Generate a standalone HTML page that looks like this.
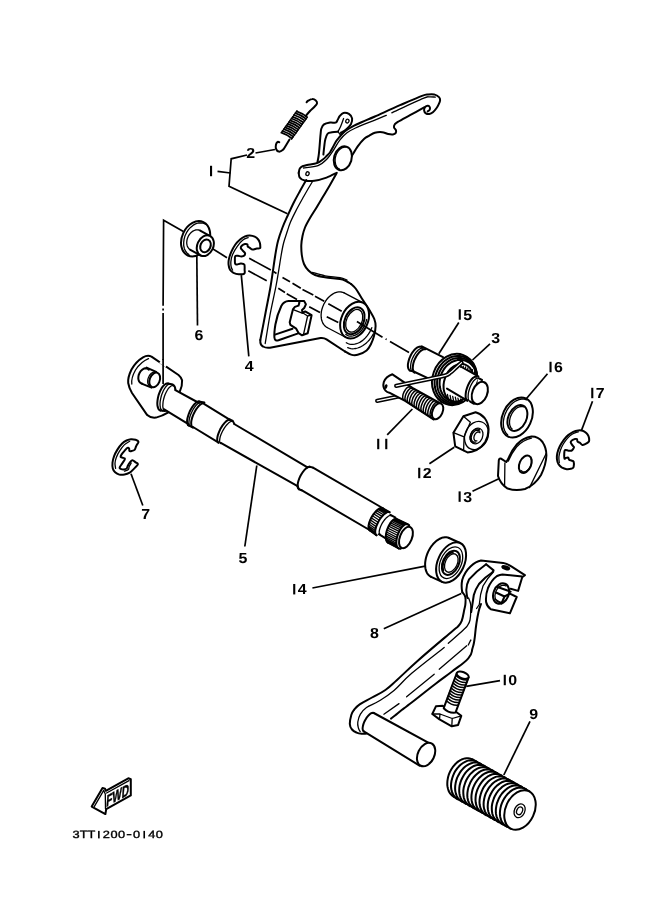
<!DOCTYPE html>
<html><head><meta charset="utf-8"><title>Shift shaft</title>
<style>
html,body{margin:0;padding:0;background:#fff;}
body{width:661px;height:913px;overflow:hidden;font-family:"Liberation Sans",sans-serif;}
svg{display:block;will-change:transform;text-rendering:geometricPrecision}
.m{fill:none;stroke:#000;stroke-width:2.0;stroke-linecap:round;stroke-linejoin:round}
.w{fill:#fff;stroke:#000;stroke-width:2.0;stroke-linecap:round;stroke-linejoin:round}
.n{fill:none;stroke:#000;stroke-width:1.3;stroke-linecap:round;stroke-linejoin:round}
.wn{fill:#fff;stroke:#000;stroke-width:1.3;stroke-linecap:round;stroke-linejoin:round}
.t{fill:none;stroke:#000;stroke-width:1.7;stroke-linecap:butt}
.k{fill:#000;stroke:none}
.wf{fill:#fff;stroke:none}
.lb{font-family:"Liberation Sans",sans-serif;font-weight:bold;font-size:14.5px;fill:#000}
</style></head><body>
<svg width="661" height="913" viewBox="0 0 661 913">
<rect class="wf" x="0" y="0" width="661" height="913"/>
<path class="t" d="M247,155 L231.2,158.8 L229,186.3 L287.5,213.8" />
<line class="t" x1="217.50" y1="171.30" x2="230.50" y2="173.00" />
<line class="t" x1="255.50" y1="153.00" x2="275.00" y2="149.50" />
<path class="t" d="M183.4,231.5 L163.6,220.3 L163.1,305.8 M163.1,308.5 L163.1,310.5 M163.1,313 L163.1,360" />
<line class="t" x1="196.80" y1="255.00" x2="197.50" y2="325.50" />
<line class="t" x1="241.30" y1="275.20" x2="248.80" y2="356.30" />
<line class="t" x1="207.00" y1="245.30" x2="227.00" y2="257.70" />
<path d="M281.3,132.7 Q287.3,134.6 291.9,138.5" fill="none" stroke="#000" stroke-width="1.75" stroke-linecap="round"/>
<path d="M282.5,131.0 Q288.6,132.9 293.2,136.7" fill="none" stroke="#000" stroke-width="1.75" stroke-linecap="round"/>
<path d="M283.8,129.2 Q289.9,131.1 294.5,134.9" fill="none" stroke="#000" stroke-width="1.75" stroke-linecap="round"/>
<path d="M285.1,127.4 Q291.1,129.3 295.8,133.1" fill="none" stroke="#000" stroke-width="1.75" stroke-linecap="round"/>
<path d="M286.4,125.6 Q292.4,127.5 297.0,131.4" fill="none" stroke="#000" stroke-width="1.75" stroke-linecap="round"/>
<path d="M287.6,123.9 Q293.7,125.8 298.3,129.6" fill="none" stroke="#000" stroke-width="1.75" stroke-linecap="round"/>
<path d="M288.9,122.1 Q295.0,124.0 299.6,127.8" fill="none" stroke="#000" stroke-width="1.75" stroke-linecap="round"/>
<path d="M290.2,120.3 Q296.2,122.2 300.9,126.0" fill="none" stroke="#000" stroke-width="1.75" stroke-linecap="round"/>
<path d="M291.5,118.5 Q297.5,120.4 302.1,124.3" fill="none" stroke="#000" stroke-width="1.75" stroke-linecap="round"/>
<path d="M292.7,116.8 Q298.8,118.7 303.4,122.5" fill="none" stroke="#000" stroke-width="1.75" stroke-linecap="round"/>
<path d="M294.0,115.0 Q300.1,116.9 304.7,120.7" fill="none" stroke="#000" stroke-width="1.75" stroke-linecap="round"/>
<path d="M295.3,113.2 Q301.3,115.1 306.0,118.9" fill="none" stroke="#000" stroke-width="1.75" stroke-linecap="round"/>
<path d="M296.6,111.4 Q302.6,113.3 307.2,117.2" fill="none" stroke="#000" stroke-width="1.75" stroke-linecap="round"/>
<line class="n" x1="281.73" y1="132.10" x2="297.03" y2="110.80" />
<line class="n" x1="291.47" y1="139.10" x2="306.77" y2="117.80" />
<path class="m" d="M305.6,116.2 C306.3,115.3 308.6,112.5 310.0,111.0 C311.4,109.5 312.8,108.5 314.0,107.2 C315.2,105.9 316.7,104.5 317.0,103.4 C317.3,102.3 316.6,101.1 315.8,100.4 C315.0,99.7 313.5,99.0 312.2,99.1 C310.9,99.1 309.1,100.2 308.2,100.7 C307.3,101.2 306.9,102.0 306.6,102.3" stroke-width="2.5"/>
<path class="m" d="M289.5,139.5 C288.9,140.5 287.0,143.6 285.9,145.4 C284.8,147.2 283.9,149.1 282.7,150.1 C281.5,151.1 279.9,151.8 278.8,151.6 C277.7,151.4 276.6,150.2 276.1,149.0 C275.6,147.8 275.7,145.8 276.0,144.6 C276.3,143.4 277.1,142.3 277.7,141.9 C278.2,141.5 279.0,142.1 279.3,142.2" stroke-width="2.5"/>
<path class="m" d="M306.3,180.0 C305.2,181.8 302.1,187.2 300.0,191.0 C297.9,194.8 295.9,198.3 293.8,202.5 C291.7,206.7 289.4,211.8 287.5,216.0 C285.6,220.2 284.1,223.3 282.5,227.5 C280.9,231.7 279.2,236.4 278.0,241.0 C276.8,245.6 276.5,247.7 275.3,255.0 C274.1,262.3 272.4,275.3 270.8,285.0 C269.2,294.7 267.2,303.8 265.5,313.0 C263.8,322.2 261.2,335.5 260.3,340.0" />
<path class="m" d="M260.3,340 Q260,345 263,346.5 Q266,348.3 270,347.7 L320.5,338 Q324,337.6 326.5,339.3 L345,351.5" />
<path class="m" d="M345.0,351.5 C346.0,352.0 348.9,354.1 351.0,354.6 C353.1,355.2 355.0,355.5 357.6,354.8 C360.2,354.1 364.4,352.2 366.6,350.4 C368.8,348.6 369.8,346.4 371.0,344.0 C372.2,341.6 373.2,339.0 374.0,336.0 C374.8,333.0 375.6,328.8 375.6,326.0 C375.7,323.2 375.2,321.5 374.3,319.0 C373.4,316.5 372.1,314.6 370.0,311.0 C367.9,307.4 363.7,301.4 361.4,297.7 C359.1,294.0 357.7,291.3 356.0,289.0 C354.3,286.7 351.8,284.8 351.0,284.0" />
<path class="m" d="M351.0,284.0 C350.2,283.5 347.8,281.8 346.0,281.0 C344.2,280.2 343.5,279.6 340.0,279.0 C336.5,278.4 329.2,278.0 325.0,277.3 C320.8,276.6 317.8,276.1 315.0,275.0 C312.2,273.9 310.3,272.3 308.5,270.5 C306.7,268.7 305.1,266.6 304.0,264.0 C302.9,261.4 302.2,258.2 301.8,255.0 C301.4,251.8 301.2,248.2 301.3,245.0 C301.4,241.8 301.9,238.9 302.5,236.0 C303.1,233.1 303.8,230.5 305.0,227.5 C306.2,224.5 308.3,220.9 310.0,218.0 C311.7,215.1 312.9,213.4 315.0,210.0 C317.1,206.6 320.0,201.7 322.5,197.5 C325.0,193.3 327.7,188.9 330.0,185.0 C332.3,181.1 335.2,175.7 336.3,173.8" />
<path class="n" d="M312.0,272.3 C314.2,272.9 320.3,274.9 325.0,275.8 C329.7,276.7 336.3,276.9 340.0,277.6 C343.7,278.3 345.8,279.6 347.0,280.0" />
<path class="n" d="M312.2,182.0 C310.8,184.3 306.6,191.3 304.0,196.0 C301.4,200.7 298.6,205.7 296.3,210.0 C294.1,214.3 292.0,218.4 290.5,222.0 C289.0,225.6 288.4,227.8 287.3,231.3 C286.2,234.8 284.6,239.1 283.6,243.0 C282.6,246.9 282.4,248.0 281.2,255.0 C280.0,262.0 278.1,275.0 276.2,285.0 C274.3,295.0 271.8,305.2 270.0,315.0 C268.2,324.8 266.0,338.8 265.2,343.5" />
<path class="m" d="M298.7,301.1 L288.5,301.1 Q284,301.3 281.3,306 Q277,315 275.4,324.5 Q274,333 274.4,337.5 Q274.8,341.5 278.5,340.3 L298.2,333.4" />
<path class="m" d="M275,334.6 L292.5,328.7" />
<path class="w" d="M298.7,301.1 L304.2,301.1 L305.9,304.3 L304.2,308.0 L302.0,310.0 L302.5,312.8 L305.2,311.4 L311.6,315.2 L307.7,333.2 L302.0,335.3 L298.7,333.2 L296.2,328.7 L290.4,324.9 L289.7,322.3 L292.9,309.4 L294.9,306.9 L298.5,305.6 L299.4,302.6Z" stroke-width="1.6"/>
<path class="n" d="M302.6,312.8 L307.6,316 L303.5,334.5 M307.6,316 L311.2,315.2 M293.2,309.6 L302.2,313.2" />
<path class="t" d="M249.2,258.3 L270.8,270 M273.5,271.6 L276.5,273.4 M282.5,277.5 L290,281.7 M292.5,283.3 L300.8,288.3 M302.5,289.5 L313.3,295 M315,296.3 L324.2,301.3 M328.3,303.7 L341.7,311.3" />
<path class="t" d="M248.3,270.8 L266.7,280.8 M278.3,288.3 L285,292.5 M286.7,293.7 L297,299.4 M309.2,306.7 L320,312.5 M326.7,316.7 L338.3,322.5" />
<path class="n" d="M327.1,327.5 L325.9,326.8 L324.8,325.8 L323.9,324.7 L323.0,323.5 L322.4,322.1 L321.8,320.6 L321.4,318.9 L321.2,317.2 L321.1,315.4 L321.2,313.5 L321.4,311.6 L321.8,309.7 L322.4,307.8 L323.1,305.9 L323.9,304.0 L324.9,302.3 L325.9,300.6 L327.1,299.0 L328.4,297.5 L329.8,296.2 L331.2,295.1 L332.6,294.1 L334.1,293.2 L335.6,292.6 L337.2,292.1 L338.7,291.9 L340.1,291.8 L341.5,292.0 L342.9,292.4 L344.1,292.9" /><line class="n" x1="344.15" y1="292.90" x2="363.15" y2="302.90" /><line class="n" x1="327.05" y1="327.50" x2="346.05" y2="337.50" /><ellipse class="w" cx="354.60" cy="320.20" rx="13.20" ry="19.30" transform="rotate(25 354.60 320.20)" />
<ellipse class="m" cx="354.20" cy="320.80" rx="9.40" ry="14.20" transform="rotate(25 354.20 320.80)" stroke-width="2.2"/>
<ellipse class="n" cx="354.20" cy="320.80" rx="7.60" ry="12.00" transform="rotate(25 354.20 320.80)" />
<path class="n" d="M366.7,319.5 L366.1,321.6 L365.4,323.6 L364.5,325.6 L363.5,327.5 L362.2,329.3 L360.9,331.0 L359.4,332.4 L357.9,333.6 L356.3,334.7 L354.7,335.4 L353.0,335.9 L351.4,336.1 L349.9,336.1 L348.4,335.8 L347.1,335.2 L345.8,334.4" />
<path class="n" d="M371.8,327.7 L370.8,330.0 L369.7,332.2 L368.4,334.2 L366.9,336.1 L365.4,337.9 L363.7,339.5 L362.0,340.9 L360.2,342.1 L358.4,343.0 L356.5,343.7 L354.7,344.2 L352.9,344.4 L351.1,344.4 L349.4,344.1 L347.8,343.5 L346.3,342.7" />
<path class="n" d="M373.4,333.9 L372.2,335.9 L370.9,337.8 L369.5,339.7 L368.0,341.4 L366.4,342.9 L364.7,344.3 L363.0,345.5 L361.3,346.5 L359.5,347.4 L357.7,348.0 L356.0,348.5 L354.2,348.7 L352.5,348.8 L350.8,348.6 L349.2,348.2 L347.7,347.6" />
<path class="t" d="M356.9,321.5 L382.5,337.2 M385.6,339 L386.6,339.6 M390,341.6 L409,352.6" />
<path class="m" d="M317.4,162.5 C317.6,161.4 318.2,158.8 318.6,156.0 C319.0,153.2 319.3,149.7 319.6,146.0 C319.9,142.3 320.3,136.9 320.6,134.0 C320.9,131.1 320.8,130.1 321.4,128.5 C322.0,126.9 322.6,125.4 324.0,124.4 C325.4,123.4 328.2,122.9 330.1,122.6 C332.0,122.3 334.4,123.0 335.6,122.6 C336.9,122.2 336.9,121.1 337.6,120.0 C338.3,118.9 338.8,117.1 339.8,115.9 C340.8,114.7 341.9,113.2 343.4,112.9 C344.9,112.6 347.4,113.0 348.9,113.9 C350.3,114.8 351.8,116.6 352.1,118.3 C352.4,120.0 351.9,122.3 350.9,124.2 C349.8,126.1 347.4,128.4 345.8,129.8 C344.2,131.2 341.8,132.1 341.0,132.6" />
<path class="m" d="M323.4,154.6 C323.5,153.2 324.0,148.6 324.3,146.0 C324.6,143.4 324.8,141.0 325.4,138.9 C326.0,136.8 326.6,134.7 327.7,133.6 C328.8,132.5 330.3,132.6 332.0,132.3 C333.7,132.0 337.0,131.7 338.0,131.6" />
<path class="n" d="M338.0,131.6 C338.4,130.8 339.7,128.7 340.6,126.5 C341.5,124.3 343.1,119.8 343.6,118.5" />
<path class="n" d="M338,131.6 L340.2,134.6 L344.5,131.2" />
<ellipse class="n" cx="347.40" cy="121.10" rx="1.60" ry="1.90" transform="rotate(20 347.40 121.10)" />
<path class="m" d="M298.7,173.0 C298.9,172.2 299.1,169.6 299.8,168.5 C300.5,167.4 301.4,166.8 302.6,166.2 C303.8,165.6 304.7,165.4 307.1,164.9 C309.5,164.4 314.2,164.0 316.8,163.1 C319.4,162.2 321.1,160.7 322.8,159.5 C324.5,158.3 325.6,157.0 326.8,155.8 C328.0,154.6 329.1,153.7 330.1,152.2 C331.1,150.7 332.0,148.8 333.0,147.0 C334.0,145.2 335.0,143.0 336.1,141.3 C337.2,139.6 338.3,138.4 339.5,137.0 C340.7,135.6 342.1,134.1 343.4,132.8 C344.7,131.6 346.1,130.5 347.5,129.5 C348.9,128.5 349.5,128.1 351.9,126.8 C354.3,125.5 358.2,123.7 362.0,122.0 C365.8,120.3 368.6,119.3 374.9,116.5 C381.2,113.7 392.1,108.6 400.0,105.2 C407.9,101.8 417.3,97.7 422.0,95.9 C426.7,94.1 426.1,94.7 428.1,94.4 C430.1,94.2 432.3,94.0 434.1,94.4 C435.9,94.9 438.0,96.1 439.0,97.1 C440.0,98.1 440.2,99.1 440.1,100.3 C440.0,101.5 439.2,103.2 438.6,104.5 C438.0,105.8 437.6,106.7 436.6,108.0 C435.7,109.3 434.1,111.2 432.9,112.2 C431.7,113.2 430.5,113.8 429.3,114.0 C428.1,114.2 426.8,114.0 425.9,113.4 C425.0,112.8 424.2,111.5 424.1,110.4 C424.0,109.3 424.4,107.8 425.1,107.0 C425.8,106.2 427.3,105.7 428.1,105.8 C428.9,105.9 429.7,106.7 429.9,107.4 C430.1,108.1 429.9,109.3 429.5,110.0 C429.1,110.7 428.0,111.2 427.7,111.4" />
<path class="m" d="M424.1,107.4 C421.8,108.7 414.4,112.8 410.0,115.2 C405.6,117.6 400.3,120.4 397.8,121.9 C395.3,123.4 395.4,123.4 394.8,124.3 C394.2,125.2 393.8,126.4 394.0,127.4 C394.2,128.4 395.7,129.4 396.0,130.4 C396.3,131.4 396.1,132.5 395.6,133.2 C395.1,133.9 394.2,134.3 393.0,134.4 C391.8,134.5 390.0,134.4 388.2,134.0 C386.4,133.6 384.3,132.4 382.1,132.2 C379.9,132.0 377.0,132.2 374.8,132.8 C372.6,133.4 370.8,134.8 369.0,135.8 C367.2,136.8 365.9,137.2 364.0,138.9 C362.1,140.6 359.9,143.3 357.9,146.1 C355.9,148.9 352.9,154.2 351.9,155.8" />
<path class="m" d="M298.7,173.0 C298.9,173.8 298.8,176.3 299.8,177.6 C300.8,178.9 302.3,180.1 304.7,180.6 C307.1,181.1 310.8,181.3 314.4,180.8 C318.0,180.3 322.8,178.9 326.5,177.6 C330.2,176.3 335.1,173.6 336.8,172.8" />
<path class="n" d="M303.5,168.0 C305.9,167.6 314.2,167.0 318.0,165.6 C321.8,164.2 323.9,162.1 326.5,159.5 C329.1,156.9 331.5,153.0 333.7,149.8 C335.9,146.6 337.6,142.9 339.8,140.1 C342.0,137.3 344.4,134.8 347.0,132.8 C349.6,130.8 350.9,130.1 355.5,128.0 C360.1,125.9 369.8,122.2 374.9,120.1 C380.0,118.0 384.4,116.1 386.3,115.3" />
<path class="n" d="M391.8,112.8 C397.0,110.4 416.9,100.9 423.2,98.3 C429.4,95.7 427.3,97.1 429.3,96.9 C431.3,96.7 434.4,97.1 435.4,97.1" />
<ellipse class="n" cx="307.50" cy="173.70" rx="1.60" ry="1.90" transform="rotate(20 307.50 173.70)" />
<ellipse class="w" cx="342.80" cy="158.30" rx="8.80" ry="12.20" transform="rotate(17 342.80 158.30)" />
<path class="n" d="M339.5,169.1 L338.0,168.2 L336.8,166.8 L335.9,165.0 L335.3,163.0 L335.1,160.7 L335.2,158.3 L335.8,155.9 L336.6,153.6 L337.8,151.6 L339.3,149.8 L341.0,148.4 L342.7,147.5 L344.5,147.0 L346.3,147.0" />
<ellipse class="w" cx="195.60" cy="238.80" rx="13.60" ry="18.40" transform="rotate(25 195.60 238.80)" />
<path class="n" d="M188.9,254.6 L186.9,253.0 L185.4,250.9 L184.3,248.4 L183.7,245.5 L183.7,242.3 L184.1,239.1 L185.0,235.8 L186.5,232.7 L188.3,229.9 L190.5,227.4 L192.9,225.4 L195.5,223.9 L198.2,223.0 L200.8,222.8 L203.3,223.1 L205.5,224.2" />
<path class="n" d="M190.4,249.8 L189.7,249.4 L189.0,248.8 L188.5,248.1 L188.0,247.4 L187.5,246.6 L187.2,245.7 L187.0,244.8 L186.8,243.8 L186.7,242.7 L186.8,241.7 L186.9,240.6 L187.1,239.5 L187.4,238.4 L187.8,237.4 L188.3,236.3 L188.8,235.4 L189.5,234.4 L190.1,233.6 L190.9,232.8 L191.7,232.1 L192.5,231.4 L193.4,230.9 L194.3,230.5 L195.1,230.2 L196.0,229.9 L196.9,229.9 L197.8,229.9 L198.6,230.0 L199.5,230.2 L200.2,230.6" /><line class="m" x1="200.21" y1="230.59" x2="210.21" y2="236.09" /><line class="m" x1="190.39" y1="249.81" x2="200.39" y2="255.31" /><ellipse class="w" cx="205.30" cy="245.70" rx="8.00" ry="10.80" transform="rotate(25 205.30 245.70)" />
<ellipse class="m" cx="205.50" cy="245.90" rx="5.00" ry="6.60" transform="rotate(25 205.50 245.90)" />
<path class="w" d="M260.3,246.8 C260.3,245.9 260.2,244.2 259.9,243.0 C259.5,241.8 259.1,240.6 258.2,239.5 C257.3,238.4 256.1,237.4 254.7,236.7 C253.3,236.0 251.4,235.6 249.8,235.5 C248.2,235.4 246.6,235.7 245.0,236.4 C243.4,237.1 241.7,238.1 240.1,239.5 C238.5,240.9 236.6,242.7 235.2,244.7 C233.8,246.7 232.4,249.4 231.4,251.7 C230.4,254.0 229.5,256.4 229.0,258.6 C228.5,260.8 228.4,263.0 228.6,264.9 C228.8,266.8 229.2,268.5 230.0,269.8 C230.8,271.1 232.1,272.1 233.5,272.9 C234.9,273.6 236.9,274.2 238.7,274.3 C240.5,274.4 243.3,274.4 244.3,273.6 C245.3,272.9 244.6,271.3 244.6,269.8 C244.6,268.3 244.9,265.6 244.3,264.5 C243.7,263.4 242.0,263.5 240.8,263.5 C239.6,263.5 237.9,264.4 237.0,264.5 C236.1,264.6 235.5,264.4 235.2,263.8 C234.8,263.2 234.9,262.0 234.9,260.7 C234.9,259.4 234.7,257.0 235.2,256.2 C235.7,255.4 236.9,255.8 238.0,255.8 C239.1,255.9 240.4,256.6 241.5,256.5 C242.6,256.4 243.7,256.1 244.3,255.5 C244.9,254.9 245.3,254.0 245.0,253.1 C244.7,252.2 243.2,251.1 242.5,250.3 C241.8,249.5 240.9,249.0 240.8,248.2 C240.7,247.4 241.1,246.4 241.8,245.7 C242.5,245.0 244.1,244.2 245.0,244.0 C245.9,243.8 247.0,244.0 247.4,244.4 C247.8,244.8 247.3,245.8 247.7,246.4 C248.1,247.0 249.0,247.3 249.8,247.8 C250.6,248.3 251.4,249.5 252.6,249.6 C253.8,249.7 255.6,248.7 256.8,248.5 C258.0,248.3 259.3,248.5 259.9,248.2 C260.5,247.9 260.3,247.7 260.3,246.8Z" />
<path class="n" d="M248.1,237.6 C247.2,238.0 244.7,238.6 242.9,240.0 C241.1,241.4 239.0,243.9 237.3,246.3 C235.6,248.7 233.7,251.9 232.6,254.4 C231.5,256.9 231.1,259.3 230.9,261.4 C230.7,263.5 230.9,265.5 231.2,267.0 C231.5,268.5 232.4,269.7 232.6,270.2" stroke-width="1.0"/>
<path class="w" d="M179.9,391.3 Q182.4,386 182.1,380.4 Q181,377 178.5,375 L151.5,356.6 Q147.5,354.8 143,357.4 Q136,361.6 131.5,369.5 Q127.6,377.5 128.2,383 Q129,388 132,393 L147.2,415.1 Q150.5,418.2 156,417.6 Q162.5,416 168.3,412.4" />
<path class="n" d="M148.5,358.6 Q141,361.6 135.5,370 Q131,378 131.8,384" />
<path class="m" d="M142.3,383.7 L141.0,383.3 L140.0,382.5 L139.1,381.4 L138.6,380.1 L138.3,378.5 L138.4,376.7 L138.7,375.0 L139.4,373.3 L140.3,371.7 L141.4,370.4 L142.7,369.3 L144.0,368.6 L145.4,368.3 L146.7,368.4 L147.9,368.9 L148.9,369.7" />
<path class="m" d="M146.6,367.6 L156.2,371.8 M142.2,383.9 L151.6,387.6" />
<ellipse class="w" cx="154.70" cy="379.90" rx="5.00" ry="7.60" transform="rotate(22 154.70 379.90)" />
<path class="n" d="M149.5,385.9 L148.6,385.0 L148.0,383.8 L147.7,382.4 L147.7,380.8 L147.9,379.1 L148.5,377.4 L149.2,375.9 L150.2,374.5 L151.4,373.3 L152.6,372.5 L153.9,372.1 L155.1,372.0" />
<path class="t" d="M160.2,361.6 L166.4,365.9" stroke="#fff" style="stroke:#fff;stroke-width:3.4"/>
<line class="t" x1="163.10" y1="359.00" x2="163.10" y2="384.00" />
<path class="wf" d="M164,408 L168.4,383.6 L175.4,388 L176,391 L166,412 Z" />
<path class="m" d="M168.0,383.6 L166.8,383.5 L165.6,384.0 L164.2,385.0 L162.9,386.4 L161.6,388.2 L160.4,390.4 L159.4,392.8 L158.5,395.4 L157.9,398.0 L157.5,400.6 L157.3,403.1 L157.4,405.3 L157.8,407.2 L158.4,408.8 L159.2,409.8 L160.2,410.4" />
<path class="n" d="M170.4,384.2 L169.3,384.2 L168.1,384.6 L166.9,385.6 L165.6,387.0 L164.4,388.8 L163.2,391.0 L162.2,393.4 L161.3,396.0 L160.7,398.6 L160.2,401.2 L160.0,403.6 L160.1,405.8 L160.4,407.7 L160.9,409.2 L161.7,410.2 L162.6,410.8" />
<path class="n" d="M173.2,385.6 L172.2,385.5 L171.1,386.0 L169.9,386.9 L168.6,388.2 L167.4,390.0 L166.3,392.0 L165.2,394.3 L164.3,396.8 L163.6,399.3 L163.1,401.7 L162.9,404.1 L162.8,406.2 L163.0,408.0 L163.5,409.4 L164.2,410.5 L165.0,411.0" />
<path class="m" d="M168.0,383.6 L172.8,384.6 Q175.4,386.2 175.4,390.1 M160.2,410.4 L165.0,411.0" />
<path class="m" d="M175.4,390.1 L199.0,403.0 M163.8,409.2 L188.4,424.2" />
<path class="m" d="M199.6,401.6 L198.6,401.4 L197.5,401.7 L196.3,402.5 L194.9,403.7 L193.5,405.2 L192.2,407.1 L190.9,409.2 L189.7,411.5 L188.8,413.8 L188.0,416.2 L187.4,418.4 L187.1,420.5 L187.1,422.3 L187.4,423.7 L187.9,424.8 L188.6,425.4" />
<path class="n" d="M201.6,402.4 L200.6,402.2 L199.5,402.5 L198.2,403.3 L196.9,404.4 L195.5,406.0 L194.1,407.9 L192.8,410.0 L191.7,412.3 L190.6,414.6 L189.8,417.0 L189.3,419.2 L189.0,421.3 L188.9,423.1 L189.2,424.5 L189.7,425.6 L190.4,426.2" />
<path class="m" d="M204.0,403.4 L203.0,403.2 L201.9,403.5 L200.6,404.3 L199.3,405.4 L197.9,407.0 L196.5,408.8 L195.2,410.9 L194.0,413.2 L192.9,415.6 L192.1,417.9 L191.5,420.2 L191.2,422.2 L191.2,424.0 L191.4,425.5 L191.9,426.6 L192.6,427.2" />
<path class="m" d="M198.6,401.4 L204.4,402.6 M188.0,425.2 L193,427.6" />
<path class="m" d="M204.4,404.2 L229.6,419.6 M193,427 L218.2,442.4" />
<path class="m" d="M229.6,419.6 L232.6,420.6 L234.2,423.6" />
<path class="m" d="M230.6,419.8 L229.7,419.6 L228.5,419.8 L227.2,420.5 L225.8,421.6 L224.4,423.1 L223.0,424.8 L221.6,426.9 L220.3,429.1 L219.3,431.4 L218.4,433.6 L217.7,435.8 L217.3,437.9 L217.2,439.6 L217.4,441.1 L217.9,442.1 L218.6,442.8" />
<path class="n" d="M233.2,421.4 L232.3,421.2 L231.2,421.4 L229.9,422.0 L228.5,423.1 L227.1,424.5 L225.7,426.2 L224.3,428.1 L223.0,430.3 L221.9,432.5 L220.9,434.7 L220.2,436.8 L219.8,438.8 L219.6,440.5 L219.7,441.9 L220.1,442.9 L220.8,443.6" />
<path class="m" d="M234.2,424.0 L307.5,467.3 M220.8,442.9 L297.6,486.2" />
<path class="m" d="M307.5,467.3 L309.5,466.8 L313,467.6" />
<path class="m" d="M310.5,466.9 L309.6,466.7 L308.4,466.9 L307.2,467.6 L305.8,468.6 L304.4,470.0 L303.0,471.8 L301.7,473.7 L300.5,475.8 L299.4,478.1 L298.6,480.3 L298.0,482.4 L297.7,484.4 L297.6,486.1 L297.8,487.5 L298.3,488.6 L299.0,489.2" />
<path class="m" d="M297.6,486.4 L299.0,489.2 L301.5,490.2" />
<path class="m" d="M313,467.6 L382.5,508.0 M301.5,490.2 L369.5,530.0" />
<path class="m" d="M382.5,508.2 L389.5,512.2 M369.8,530.4 L376.5,535.2" />
<path class="m" d="M382.5,508.2 L381.5,507.9 L380.4,508.1 L379.0,508.7 L377.6,509.7 L376.1,511.1 L374.6,512.8 L373.1,514.7 L371.8,516.8 L370.7,519.0 L369.7,521.3 L369.0,523.4 L368.6,525.4 L368.5,527.1 L368.6,528.6 L369.1,529.7 L369.8,530.4" />
<path class="m" d="M389.5,512.2 L388.5,511.9 L387.3,512.1 L386.0,512.8 L384.5,513.8 L383.0,515.3 L381.5,517.0 L380.0,519.0 L378.6,521.2 L377.5,523.5 L376.5,525.8 L375.8,528.0 L375.3,530.1 L375.2,531.9 L375.3,533.4 L375.8,534.5 L376.5,535.2" />
<path class="n" d="M382.5,508.2 L389.5,512.2 M381.6,507.9 L388.6,511.9 M380.5,508.1 L387.5,512.1 M379.3,508.6 L386.2,512.6 M377.9,509.4 L384.9,513.5 M376.5,510.6 L383.4,514.8 M375.1,512.1 L382.0,516.4 M373.7,513.9 L380.6,518.2 M372.4,515.8 L379.3,520.2 M371.2,517.9 L378.1,522.3 M370.2,519.9 L377.0,524.5 M369.4,522.0 L376.2,526.6 M368.9,524.0 L375.6,528.7 M368.5,525.8 L375.3,530.5 M368.5,527.4 L375.2,532.2 M368.7,528.8 L375.4,533.5 M369.1,529.8 L375.8,534.6 M369.8,530.4 L376.5,535.2" stroke-width="1.0"/>
<path class="m" d="M390.5,514.8 L395.5,517.6 M378.8,534.2 L386.5,538.8" />
<path class="n" d="M391.5,515.6 L390.7,515.4 L389.8,515.5 L388.6,516.0 L387.4,516.9 L386.1,518.1 L384.8,519.5 L383.6,521.1 L382.4,522.9 L381.4,524.8 L380.5,526.7 L379.9,528.5 L379.4,530.2 L379.2,531.7 L379.3,532.9 L379.6,533.8 L380.2,534.4" />
<path class="m" d="M396.5,519.0 L395.5,518.9 L394.3,519.2 L393.1,520.0 L391.8,521.2 L390.5,522.8 L389.4,524.7 L388.3,526.8 L387.4,529.0 L386.6,531.4 L386.1,533.7 L385.8,535.9 L385.8,537.9 L386.0,539.6 L386.5,541.0 L387.1,542.0 L388.0,542.6" />
<path class="m" d="M396.5,519.0 L407.5,524.2 M388.0,542.6 L398.8,548.4" />
<path class="n" d="M396.5,519.0 L407.5,524.2 M395.6,518.9 L406.6,524.1 M394.7,519.1 L405.7,524.3 M393.7,519.6 L404.6,524.8 M392.6,520.4 L403.6,525.7 M391.5,521.5 L402.5,526.8 M390.5,522.9 L401.4,528.2 M389.5,524.4 L400.4,529.8 M388.6,526.2 L399.5,531.6 M387.7,528.1 L398.6,533.5 M387.0,530.0 L397.9,535.5 M386.5,532.0 L397.3,537.6 M386.1,533.9 L396.9,539.5 M385.8,535.8 L396.7,541.4 M385.8,537.5 L396.6,543.2 M385.9,539.0 L396.7,544.8 M386.2,540.3 L397.0,546.1 M386.6,541.4 L397.4,547.2 M387.3,542.1 L398.1,547.9 M388.0,542.6 L398.8,548.4" stroke-width="1.0"/>
<path class="w" d="M407.5,524.2 L406.0,524.1 L404.3,524.9 L402.5,526.4 L400.8,528.6 L399.2,531.3 L397.9,534.4 L396.9,537.6 L396.4,540.7 L396.3,543.5 L396.7,545.8 L397.6,547.5 L398.8,548.4 L400.3,548.5 L402.0,547.7 L403.8,546.2 L405.5,544.0 L407.1,541.3 L408.4,538.2 L409.4,535.0 L409.9,531.9 L410.0,529.1 L409.6,526.8 L408.7,525.1 L407.5,524.2" />
<path class="n" d="M407.5,524.2 L409.5,525.2 M398.8,548.4 L400.8,549.0" />
<ellipse class="w" cx="405.95" cy="537.50" rx="6.00" ry="11.20" transform="rotate(22 405.95 537.50)" />
<path class="w" d="M138.5,441.8 C138.4,440.8 136.8,440.2 135.6,439.8 C134.3,439.4 132.5,439.1 131.0,439.2 C129.5,439.3 128.0,439.8 126.5,440.5 C125.0,441.2 123.4,442.2 121.9,443.7 C120.4,445.2 118.7,447.5 117.4,449.6 C116.1,451.7 114.9,453.9 114.1,456.1 C113.3,458.3 112.7,460.6 112.5,462.6 C112.3,464.7 112.4,466.8 112.8,468.4 C113.2,470.0 114.0,471.3 115.1,472.3 C116.2,473.3 117.7,474.2 119.3,474.6 C120.9,475.0 122.8,474.9 124.5,474.6 C126.2,474.3 128.2,473.6 129.7,472.7 C131.2,471.8 132.2,470.5 133.6,469.1 C135.0,467.7 137.6,465.3 137.9,464.2 C138.2,463.1 136.5,462.9 135.6,462.3 C134.7,461.7 133.3,460.2 132.3,460.3 C131.3,460.4 130.4,461.7 129.7,462.6 C128.9,463.5 128.3,464.8 127.8,465.8 C127.3,466.8 127.4,467.8 126.8,468.4 C126.2,469.0 124.9,469.3 123.9,469.4 C122.9,469.5 121.3,469.1 120.6,468.8 C119.9,468.5 119.4,468.3 119.6,467.5 C119.8,466.7 121.1,465.1 121.9,463.9 C122.7,462.6 124.0,460.9 124.5,460.0 C125.0,459.1 125.1,458.8 124.8,458.4 C124.5,458.0 123.3,457.9 122.6,457.7 C121.9,457.5 120.8,457.6 120.6,457.0 C120.4,456.4 120.9,455.4 121.6,454.4 C122.2,453.4 123.5,452.0 124.5,450.9 C125.5,449.8 126.6,448.3 127.4,447.9 C128.2,447.5 128.8,448.1 129.1,448.6 C129.4,449.1 129.1,450.5 129.4,450.9 C129.7,451.3 130.1,451.4 131.0,451.2 C131.9,451.0 133.7,450.8 134.6,449.9 C135.5,449.0 135.5,447.4 136.2,446.0 C136.8,444.6 138.6,442.8 138.5,441.8Z" />
<path class="n" d="M129.7,441.3 C128.8,441.9 126.1,443.1 124.5,444.6 C122.9,446.1 121.4,448.3 120.0,450.4 C118.6,452.5 117.1,455.3 116.3,457.4 C115.5,459.5 115.1,461.4 115.0,463.2 C114.9,465.0 115.5,467.5 115.6,468.4" stroke-width="1.0"/>
<path class="n" d="M131.2,463.0 C130.9,463.6 129.7,465.4 129.2,466.5 C128.7,467.6 129.2,468.7 128.4,469.5 C127.6,470.3 125.2,470.9 124.5,471.2" stroke-width="1.0"/>
<line class="t" x1="131.00" y1="473.80" x2="142.80" y2="505.50" />
<line class="t" x1="256.80" y1="465.50" x2="244.80" y2="546.50" />
<line class="t" x1="458.80" y1="322.50" x2="438.80" y2="353.80" />
<line class="t" x1="490.00" y1="343.80" x2="472.50" y2="360.00" />
<line class="t" x1="412.40" y1="409.00" x2="387.20" y2="434.90" />
<path class="m" d="M421.8,346.4 L443,357.2 M412.6,371.0 L431,379.6" />
<path class="m" d="M411.4,371.0 L410.3,370.8 L409.4,370.3 L408.7,369.3 L408.2,368.1 L407.9,366.5 L407.9,364.7 L408.2,362.7 L408.7,360.6 L409.4,358.4 L410.3,356.3 L411.3,354.2 L412.5,352.3 L413.9,350.5 L415.2,349.1 L416.6,347.9 L418.0,347.1 L419.3,346.7 L420.4,346.6 L421.4,346.9 L422.3,347.6" />
<path class="n" d="M412.4,371.6 L411.5,370.8 L411.0,369.5 L410.6,368.0 L410.6,366.2 L410.8,364.2 L411.2,362.0 L411.9,359.8 L412.9,357.6 L414.0,355.4 L415.2,353.5 L416.6,351.7 L418.0,350.3 L419.4,349.2 L420.8,348.4 L422.1,348.1 L423.3,348.1" />
<path class="m" d="M414.6,372.7 L413.7,371.9 L413.2,370.6 L412.8,369.1 L412.8,367.3 L413.0,365.3 L413.4,363.1 L414.1,360.9 L415.1,358.7 L416.2,356.5 L417.4,354.6 L418.8,352.8 L420.2,351.4 L421.6,350.3 L423.0,349.5 L424.3,349.2 L425.5,349.2" stroke-width="1.6"/>
<ellipse class="w" cx="454.50" cy="379.50" rx="22.00" ry="26.00" transform="rotate(20 454.50 379.50)" stroke-width="2.0"/>
<path class="m" d="M460.1,402.9 L457.5,403.7 L454.9,404.0 L452.3,404.1 L449.8,403.7 L447.4,403.0 L445.1,402.0 L442.9,400.6 L440.9,399.0 L439.2,397.0 L437.7,394.8 L436.5,392.4 L435.5,389.7 L434.9,387.0 L434.6,384.1 L434.6,381.2 L434.9,378.3 L435.5,375.3 L436.4,372.5 L437.6,369.8 L439.1,367.2 L440.8,364.8 L442.8,362.6 L444.9,360.7 L447.2,359.1 L449.6,357.8 L452.2,356.8 L454.7,356.2 L457.3,355.9 L459.9,356.0 L462.4,356.4 L464.8,357.2 L467.1,358.4 L469.2,359.8 L471.1,361.6 L472.8,363.6 L474.2,365.9 L475.3,368.4 L476.2,371.0 L476.7,373.8 L477.0,376.7" stroke-width="1.5"/>
<path class="m" d="M461.1,402.0 L458.7,402.7 L456.2,403.1 L453.8,403.1 L451.4,402.8 L449.1,402.1 L447.0,401.1 L444.9,399.9 L443.1,398.3 L441.5,396.5 L440.0,394.4 L438.9,392.1 L438.0,389.6 L437.4,387.1 L437.1,384.4 L437.1,381.6 L437.4,378.9 L438.0,376.1 L438.8,373.5 L439.9,370.9 L441.3,368.5 L443.0,366.2 L444.8,364.2 L446.8,362.4 L449.0,360.9 L451.2,359.7 L453.6,358.7 L456.0,358.2 L458.5,357.9 L460.9,358.0 L463.2,358.4 L465.5,359.1 L467.6,360.2 L469.6,361.6 L471.4,363.2 L473.0,365.1 L474.3,367.3 L475.4,369.6 L476.2,372.1 L476.7,374.7 L476.9,377.4" stroke-width="1.5"/>
<path class="m" d="M462.1,401.1 L459.8,401.8 L457.5,402.1 L455.3,402.1 L453.0,401.8 L450.9,401.2 L448.9,400.3 L447.0,399.1 L445.2,397.6 L443.7,395.9 L442.4,394.0 L441.3,391.8 L440.5,389.5 L439.9,387.1 L439.6,384.6 L439.6,382.0 L439.9,379.5 L440.4,376.9 L441.2,374.4 L442.3,372.0 L443.6,369.7 L445.1,367.6 L446.8,365.7 L448.7,364.1 L450.7,362.7 L452.9,361.5 L455.1,360.7 L457.3,360.1 L459.6,359.9 L461.9,359.9 L464.1,360.3 L466.2,361.0 L468.2,362.0 L470.0,363.3 L471.7,364.8 L473.2,366.6 L474.4,368.6 L475.5,370.8 L476.2,373.1 L476.7,375.6 L476.9,378.1" stroke-width="1.5"/>
<ellipse class="w" cx="458.60" cy="382.80" rx="14.40" ry="19.40" transform="rotate(20 458.60 382.80)" stroke-width="2.0"/>
<path class="n" d="M461.0,365.2 L460.4,370.5 M463.3,366.1 L462.7,371.6 M465.6,367.0 L465.0,372.7 M467.9,367.9 L467.3,373.8 M470.2,368.8 L469.6,374.9 M472.5,369.7 L471.9,376.0 M474.8,370.6 L474.2,377.1" stroke-width="1.0"/>
<path class="n" d="M447.5,394.5 L448.3,399.3 M450.1,395.4 L450.9,399.8 M452.7,396.3 L453.5,400.3 M455.3,397.2 L456.1,400.8 M457.9,398.1 L458.7,401.3 M460.5,399.0 L461.3,401.8" stroke-width="1.0"/>
<path class="wf" d="M447.5,377.0 L462,366.8 L478.6,376.6 L469.5,400.6 L447,388.6 Z" />
<path class="m" d="M461.5,367.0 L478.4,376.4 M447,388.6 L467.2,400.6" />
<path class="m" d="M476.5,376.8 L475.5,376.7 L474.4,377.0 L473.1,377.8 L471.9,379.0 L470.6,380.6 L469.4,382.5 L468.3,384.7 L467.4,386.9 L466.6,389.3 L466.0,391.6 L465.7,393.9 L465.6,395.9 L465.7,397.6 L466.1,399.0 L466.8,400.0 L467.6,400.6" />
<path class="n" d="M478.6,378.2 L477.6,378.1 L476.5,378.4 L475.3,379.2 L474.0,380.4 L472.8,382.0 L471.7,383.9 L470.6,386.0 L469.7,388.2 L469.0,390.5 L468.4,392.8 L468.2,395.0 L468.1,397.0 L468.3,398.7 L468.7,400.1 L469.4,401.0 L470.2,401.6" />
<path class="m" d="M478.6,378.2 L482,380 M470.2,401.6 L474,403.8" />
<ellipse class="w" cx="479.80" cy="393.00" rx="7.40" ry="11.60" transform="rotate(22 479.80 393.00)" />
<path d="M377.2,400.8 C381.1,400.0 394.0,397.4 400.8,396.0 C407.6,394.6 415.1,393.2 418.0,392.6" fill="none" stroke="#000" stroke-width="4.3" stroke-linecap="round" stroke-linejoin="round"/>
<path d="M377.2,400.8 C381.1,400.0 394.0,397.4 400.8,396.0 C407.6,394.6 415.1,393.2 418.0,392.6" fill="none" stroke="#fff" stroke-width="1.2" stroke-linecap="round" stroke-linejoin="round"/>
<path class="w" d="M392.4,374.3 Q386,376.5 383.8,382 Q382.4,387.5 385.5,390.6 Q387,392.3 389.3,392.7 L405.6,401.2 L433.5,419.4 L440.5,403.4 L412.4,387.9 Z" />
<path class="n" style="stroke-width:1.5" d="M410.0,386.9 L409.4,386.8 L408.7,386.9 L407.9,387.2 L407.0,387.8 L406.2,388.6 L405.4,389.6 L404.7,390.8 L404.0,392.0 L403.5,393.3 L403.0,394.6 L402.8,395.9 L402.7,397.0 L402.7,398.0 L402.9,398.9 L403.3,399.5 L403.8,399.9" />
<path class="n" style="stroke-width:1.5" d="M412.3,388.2 L411.7,388.0 L410.9,388.2 L410.2,388.5 L409.3,389.2 L408.5,390.0 L407.7,391.0 L407.0,392.2 L406.3,393.4 L405.7,394.7 L405.3,396.1 L405.1,397.3 L404.9,398.5 L405.0,399.5 L405.2,400.4 L405.6,401.0 L406.1,401.4" />
<path class="n" style="stroke-width:1.5" d="M414.6,389.5 L414.0,389.3 L413.2,389.5 L412.4,389.9 L411.6,390.5 L410.8,391.3 L410.0,392.4 L409.2,393.5 L408.6,394.8 L408.0,396.2 L407.6,397.5 L407.3,398.8 L407.2,400.0 L407.3,401.0 L407.5,401.8 L407.9,402.5 L408.4,402.9" />
<path class="n" style="stroke-width:1.5" d="M416.9,390.8 L416.2,390.6 L415.5,390.8 L414.7,391.2 L413.9,391.8 L413.1,392.7 L412.3,393.7 L411.5,394.9 L410.9,396.2 L410.3,397.6 L409.9,398.9 L409.6,400.2 L409.5,401.4 L409.6,402.5 L409.8,403.3 L410.1,404.0 L410.7,404.4" />
<path class="n" style="stroke-width:1.5" d="M419.2,392.0 L418.5,391.9 L417.8,392.1 L417.0,392.5 L416.2,393.1 L415.4,394.0 L414.6,395.1 L413.8,396.3 L413.1,397.6 L412.6,399.0 L412.2,400.4 L411.9,401.7 L411.8,402.9 L411.8,403.9 L412.1,404.8 L412.4,405.4 L412.9,405.8" />
<path class="n" style="stroke-width:1.5" d="M421.5,393.3 L420.8,393.2 L420.1,393.4 L419.3,393.8 L418.5,394.5 L417.6,395.4 L416.8,396.4 L416.1,397.7 L415.4,399.0 L414.9,400.4 L414.4,401.8 L414.2,403.1 L414.1,404.4 L414.1,405.4 L414.3,406.3 L414.7,406.9 L415.2,407.3" />
<path class="n" style="stroke-width:1.5" d="M423.8,394.6 L423.1,394.5 L422.4,394.7 L421.6,395.1 L420.8,395.8 L419.9,396.7 L419.1,397.8 L418.4,399.1 L417.7,400.4 L417.1,401.8 L416.7,403.2 L416.5,404.6 L416.4,405.8 L416.4,406.9 L416.6,407.8 L417.0,408.4 L417.5,408.8" />
<path class="n" style="stroke-width:1.5" d="M426.0,395.9 L425.4,395.8 L424.7,396.0 L423.9,396.4 L423.1,397.1 L422.2,398.0 L421.4,399.2 L420.7,400.4 L420.0,401.8 L419.4,403.2 L419.0,404.7 L418.7,406.0 L418.6,407.3 L418.7,408.4 L418.9,409.3 L419.3,409.9 L419.8,410.3" />
<path class="n" style="stroke-width:1.5" d="M428.3,397.2 L427.7,397.1 L427.0,397.2 L426.2,397.7 L425.3,398.4 L424.5,399.4 L423.7,400.5 L422.9,401.8 L422.3,403.2 L421.7,404.7 L421.3,406.1 L421.0,407.5 L420.9,408.7 L421.0,409.8 L421.2,410.7 L421.6,411.4 L422.1,411.8" />
<path class="n" style="stroke-width:1.5" d="M430.6,398.5 L430.0,398.4 L429.3,398.5 L428.5,399.0 L427.6,399.7 L426.8,400.7 L426.0,401.9 L425.2,403.2 L424.5,404.6 L424.0,406.1 L423.6,407.5 L423.3,408.9 L423.2,410.2 L423.3,411.3 L423.5,412.2 L423.8,412.9 L424.4,413.3" />
<path class="n" style="stroke-width:1.5" d="M432.9,399.7 L432.3,399.6 L431.6,399.8 L430.8,400.3 L429.9,401.1 L429.1,402.1 L428.3,403.2 L427.5,404.6 L426.8,406.0 L426.3,407.5 L425.9,409.0 L425.6,410.4 L425.5,411.7 L425.5,412.8 L425.8,413.7 L426.1,414.4 L426.6,414.7" />
<path class="n" style="stroke-width:1.5" d="M435.2,401.0 L434.6,400.9 L433.8,401.1 L433.0,401.6 L432.2,402.4 L431.4,403.4 L430.5,404.6 L429.8,405.9 L429.1,407.4 L428.6,408.9 L428.1,410.4 L427.9,411.8 L427.8,413.1 L427.8,414.3 L428.0,415.2 L428.4,415.8 L428.9,416.2" />
<path class="n" style="stroke-width:1.5" d="M437.5,402.3 L436.9,402.2 L436.1,402.4 L435.3,402.9 L434.5,403.7 L433.6,404.7 L432.8,406.0 L432.1,407.3 L431.4,408.8 L430.8,410.3 L430.4,411.8 L430.2,413.3 L430.0,414.6 L430.1,415.7 L430.3,416.7 L430.7,417.3 L431.2,417.7" />
<path class="n" style="stroke-width:1.5" d="M439.8,403.6 L439.2,403.5 L438.4,403.7 L437.6,404.2 L436.8,405.0 L435.9,406.1 L435.1,407.3 L434.4,408.7 L433.7,410.2 L433.1,411.7 L432.7,413.3 L432.4,414.7 L432.3,416.1 L432.4,417.2 L432.6,418.1 L433.0,418.8 L433.5,419.2" />
<ellipse class="w" cx="437.60" cy="411.30" rx="5.00" ry="8.40" transform="rotate(24 437.60 411.30)" />
<ellipse class="k" cx="385.90" cy="386.60" rx="1.50" ry="2.40" transform="rotate(20 385.90 386.60)" />
<path d="M461.5,362.6 C460.6,363.4 457.8,365.9 456.0,367.6 C454.2,369.3 452.4,371.3 450.5,372.6 C448.6,373.9 448.3,374.6 444.9,375.6 C441.5,376.6 438.1,377.1 430.0,378.8 C421.9,380.5 401.8,384.7 396.2,385.9" fill="none" stroke="#000" stroke-width="4.3" stroke-linecap="round" stroke-linejoin="round"/>
<path d="M461.5,362.6 C460.6,363.4 457.8,365.9 456.0,367.6 C454.2,369.3 452.4,371.3 450.5,372.6 C448.6,373.9 448.3,374.6 444.9,375.6 C441.5,376.6 438.1,377.1 430.0,378.8 C421.9,380.5 401.8,384.7 396.2,385.9" fill="none" stroke="#fff" stroke-width="1.2" stroke-linecap="round" stroke-linejoin="round"/>
<line class="t" x1="429.40" y1="463.80" x2="454.20" y2="447.30" />
<path class="w" d="M453.4,432.7 L463.4,416.3 L475.6,412.3 Q481,413.8 484.6,418 Q488.4,423 488.6,429.3 Q488.4,436.5 485.2,442 Q481.6,447.4 476.5,450 Q471.5,452.2 467.5,452.4 L455.2,446.3 Z" />
<path class="n" d="M463.4,416.3 L470.4,422.3 M453.4,432.7 L464.1,436.8 L463.6,450.6 M470.4,422.3 L464.1,436.8" />
<ellipse class="n" cx="476.50" cy="435.60" rx="11.40" ry="14.60" transform="rotate(24 476.50 435.60)" />
<ellipse class="n" cx="476.60" cy="436.00" rx="6.00" ry="8.20" transform="rotate(24 476.60 436.00)" stroke-width="1.5"/>
<path class="n" d="M474.4,443.1 L472.5,442.7 L471.0,441.5 L470.2,439.5 L470.0,437.1 L470.6,434.5 L471.9,432.1 L473.6,430.2 L475.6,429.1 L477.6,429.0 L479.4,429.7" stroke-width="1.0"/>
<path class="n" d="M475.8,442.2 L473.9,442.2 L472.4,441.3 L471.4,439.6 L471.2,437.4 L471.8,434.9 L473.0,432.7 L474.7,431.0 L476.6,430.2 L478.4,430.3 L479.8,431.3" stroke-width="0.9"/>
<path class="n" d="M476.9,440.8 L475.6,440.9 L474.6,440.3 L474.0,439.0 L473.9,437.4 L474.3,435.6 L475.2,433.9 L476.4,432.6 L477.8,431.9 L479.0,432.0 L480.0,432.7" stroke-width="0.9"/>
<line class="t" x1="547.50" y1="373.80" x2="526.30" y2="398.80" />
<ellipse class="w" cx="517.00" cy="417.50" rx="14.50" ry="21.00" transform="rotate(25 517.00 417.50)" />
<path class="n" d="M507.7,434.9 L505.9,432.9 L504.6,430.5 L503.7,427.7 L503.3,424.5 L503.4,421.1 L504.0,417.6 L505.1,414.1 L506.7,410.7 L508.6,407.6 L510.9,404.8 L513.4,402.5 L516.1,400.8 L518.9,399.6 L521.6,399.0 L524.2,399.1 L526.7,399.9" />
<ellipse class="w" cx="517.40" cy="418.00" rx="9.00" ry="13.60" transform="rotate(25 517.40 418.00)" />
<path class="n" d="M512.1,429.0 L511.0,427.9 L510.2,426.4 L509.7,424.6 L509.5,422.6 L509.6,420.5 L510.0,418.3 L510.7,416.1 L511.7,414.0 L512.9,412.0 L514.3,410.2 L515.9,408.8 L517.5,407.6 L519.2,406.9 L520.9,406.5 L522.5,406.5 L523.9,407.0" />
<line class="t" x1="472.50" y1="491.30" x2="498.80" y2="478.80" />
<path class="w" d="M498.0,476 L498.8,460.2 Q499.4,458 501.4,458.8 L506.3,462 Q507.6,460.5 509,457.2 Q512,450 517,444.2 Q523,438 531.5,436.6 Q538,436.4 542.5,442 Q546.5,448 546.4,455.5 Q546,465 541,475 Q535,485 525,489 Q515,491.4 507,488.2 Q500.5,484 498.0,476 Z" />
<path class="n" d="M504.9,463 L504.6,485.8" />
<path class="n" d="M508.2,461.2 Q511,454 516.5,447 Q523,440 531.5,438.2" stroke-width="1.0"/>
<path class="n" d="M546.2,453.5 L529.5,487.6" />
<ellipse class="m" cx="525.30" cy="464.20" rx="5.80" ry="9.20" transform="rotate(24 525.30 464.20)" />
<path class="n" d="M531.0,459.0 L531.4,460.5 L531.4,462.2 L531.2,464.1 L530.6,465.9 L529.7,467.7 L528.6,469.3 L527.3,470.5 L526.0,471.4 L524.7,471.9 L523.4,471.9 L522.3,471.5 L521.4,470.6" />
<line class="t" x1="592.50" y1="401.30" x2="581.50" y2="430.40" />
<path class="w" d="M589.2,440.2 C589.2,439.2 589.0,437.4 588.5,436.2 C588.0,435.0 587.3,433.8 586.3,432.9 C585.3,432.0 584.0,431.1 582.7,430.7 C581.4,430.3 579.9,430.2 578.3,430.4 C576.7,430.6 574.9,431.0 573.2,431.8 C571.5,432.6 569.8,433.8 568.2,435.1 C566.6,436.4 565.2,437.9 563.8,439.8 C562.4,441.7 560.9,444.1 559.8,446.3 C558.7,448.5 557.8,451.1 557.3,453.2 C556.8,455.3 556.7,457.2 556.9,459.0 C557.1,460.8 557.6,462.7 558.4,464.1 C559.2,465.5 560.2,466.5 561.6,467.4 C563.0,468.2 565.0,469.0 566.7,469.2 C568.4,469.4 570.6,468.9 571.8,468.5 C572.9,468.1 573.3,468.1 573.6,467.0 C573.9,465.9 574.0,462.7 573.6,461.6 C573.2,460.5 572.1,460.8 571.4,460.5 C570.7,460.2 569.7,460.3 569.2,459.8 C568.7,459.3 568.7,457.9 568.2,457.6 C567.7,457.3 566.6,457.7 566.0,457.9 C565.4,458.1 564.8,459.0 564.5,458.7 C564.2,458.4 564.2,457.4 564.2,456.1 C564.2,454.8 564.3,452.0 564.5,451.0 C564.7,450.0 564.9,450.1 565.6,450.0 C566.3,449.9 567.5,450.6 568.5,450.7 C569.5,450.8 570.6,451.0 571.4,450.7 C572.2,450.4 572.8,449.5 573.2,448.9 C573.6,448.3 574.2,447.8 574.0,447.1 C573.8,446.4 572.6,445.7 572.1,444.9 C571.6,444.1 570.8,443.0 570.7,442.3 C570.7,441.6 571.1,441.0 571.8,440.5 C572.5,440.0 573.9,439.3 574.7,439.1 C575.6,438.9 576.4,438.7 576.9,439.1 C577.4,439.5 577.1,441.0 577.6,441.6 C578.1,442.2 579.0,442.1 579.8,442.7 C580.6,443.2 581.3,444.7 582.3,444.9 C583.3,445.1 584.6,444.3 585.6,443.8 C586.6,443.3 587.9,442.6 588.5,442.0 C589.1,441.4 589.2,441.2 589.2,440.2Z" />
<path class="n" d="M578.3,431.8 C577.3,432.2 574.3,432.9 572.5,434.0 C570.7,435.1 568.9,436.7 567.4,438.4 C565.9,440.1 564.5,442.0 563.3,444.0 C562.1,446.0 561.1,448.2 560.4,450.3 C559.7,452.4 559.1,454.8 558.9,456.9 C558.7,459.0 559.2,461.7 559.3,462.7" stroke-width="1.0"/>
<line class="t" x1="312.40" y1="588.00" x2="425.20" y2="566.10" />
<path class="m" d="M431.1,576.8 L429.9,576.1 L428.8,575.3 L427.8,574.2 L427.0,572.9 L426.3,571.5 L425.8,569.9 L425.4,568.2 L425.2,566.3 L425.1,564.4 L425.2,562.4 L425.5,560.3 L425.9,558.2 L426.5,556.1 L427.2,554.0 L428.1,551.9 L429.1,549.9 L430.2,548.0 L431.5,546.2 L432.8,544.5 L434.2,542.9 L435.7,541.6 L437.2,540.3 L438.7,539.3 L440.3,538.5 L441.9,537.8 L443.4,537.4 L444.9,537.2 L446.4,537.3 L447.8,537.5 L449.1,538.0" /><line class="m" x1="449.08" y1="537.98" x2="460.08" y2="542.98" /><line class="m" x1="431.12" y1="576.82" x2="442.12" y2="581.82" /><ellipse class="w" cx="451.10" cy="562.40" rx="13.20" ry="21.40" transform="rotate(25 451.10 562.40)" />
<ellipse class="n" cx="450.90" cy="562.70" rx="10.40" ry="16.80" transform="rotate(25 450.90 562.70)" />
<ellipse class="m" cx="450.90" cy="562.80" rx="8.00" ry="12.80" transform="rotate(25 450.90 562.80)" stroke-width="2.0"/>
<ellipse class="n" cx="451.30" cy="563.00" rx="6.00" ry="9.80" transform="rotate(25 451.30 563.00)" />
<path class="m" d="M443.3,570.2 L442.8,568.3 L442.7,566.1 L443.1,563.8 L443.7,561.4 L444.8,559.1 L446.1,556.9 L447.7,555.1 L449.4,553.7 L451.1,552.7 L452.8,552.3" stroke-width="2.2"/>
<line class="t" x1="383.80" y1="628.80" x2="461.30" y2="593.50" />
<path class="m" d="M462.3,592.2 C462.9,593.2 464.7,594.6 465.3,597.0 C465.9,599.4 465.6,601.4 465.4,604.0 C465.2,606.6 464.9,606.6 464.2,610.0 C463.5,613.4 463.0,617.5 461.7,620.8 C460.4,624.1 459.8,624.4 457.8,626.6 C455.8,628.8 459.8,624.8 451.7,631.7 C443.6,638.6 428.4,651.3 417.5,661.0 C406.6,670.7 403.4,674.2 397.0,680.0 C390.6,685.8 390.4,686.5 385.4,690.0 C380.4,693.5 377.1,694.6 372.0,697.5 C366.9,700.4 363.3,701.9 359.7,704.4 C356.1,706.9 355.7,707.9 354.0,710.0 C352.3,712.1 352.1,712.2 351.3,715.0 C350.5,717.8 349.7,721.1 349.8,724.0 C349.9,726.9 350.6,727.8 352.0,729.5 C353.4,731.2 354.6,731.7 356.6,732.6 C358.6,733.5 360.0,733.6 362.0,733.8 C364.0,734.0 365.6,733.6 366.5,733.6" />
<path class="n" d="M468.6,598.0 C469.0,599.2 470.2,601.6 470.6,604.0 C471.0,606.4 470.9,606.8 470.8,610.0 C470.7,613.2 470.7,616.9 470.0,620.0 C469.3,623.1 468.8,623.5 467.5,625.5 C466.2,627.5 467.1,626.4 463.3,630.0 C459.5,633.6 451.3,640.6 448.3,643.3" />
<path class="n" d="M444.2,647.5 C437.7,652.7 421.7,664.7 411.7,673.3 C401.7,681.9 400.5,685.0 394.0,690.5 C387.5,696.0 384.5,697.6 379.0,701.0 C373.5,704.4 370.2,704.9 366.5,707.5 C362.8,710.1 362.1,711.3 360.4,714.2 C358.7,717.1 358.2,719.2 357.8,722.0 C357.4,724.8 357.9,726.1 358.4,728.0 C358.9,729.9 359.8,730.9 360.2,731.6" />
<path class="m" d="M481.0,604.0 C480.4,605.9 479.6,607.1 478.5,612.0 C477.4,616.9 477.2,618.5 476.2,625.0 C475.2,631.5 475.3,634.6 474.4,640.0 C473.5,645.4 473.9,644.0 472.5,648.3 C471.1,652.6 473.1,652.9 468.3,658.3 C463.5,663.7 459.8,665.5 452.0,671.5 C444.2,677.5 444.8,676.7 435.0,684.2 C425.2,691.7 417.8,697.8 410.0,703.8 C402.2,709.8 405.2,707.3 401.7,710.0 C398.2,712.7 397.5,713.5 395.0,715.5 C392.5,717.5 391.9,717.9 391.0,718.6" />
<path class="n" d="M466.7,645.8 L439.2,669.2 M434.2,674.2 L406.6,696.8 M399,703.6 L383.9,714.2" />
<path class="n" d="M470.8,640 L468.3,645" />
<path class="m" d="M462.3,592.2 Q461,586 462.2,580 Q464.5,572 470.5,566.4 Q476,561.4 481,560.6 L503.1,562.9 Q508,564.2 511.3,566.3 L524.9,575.2 L522.2,577.2 L518.1,590.9 L510.6,588.8 M509.9,593.6 L516.7,597 L509.9,613.3 L490.8,609.2 Q487,606.5 486.1,602 Q485.4,595 488,588 Q491.5,580 497,576 Q500,574.6 502.4,574.5 L522.2,576.5" />
<ellipse class="k" cx="505.80" cy="567.70" rx="4.60" ry="2.30" transform="rotate(18 505.80 567.70)" />
<path class="m" d="M486.1,564.3 L493.6,570.4 L492.2,572.5 Q485,577 479,584 Q475,590 473.8,595 Q472.5,604 471.2,612" />
<path class="m" d="M486.1,564.3 Q476,571.5 469.1,579.3 Q466.6,584 466.3,590 Q466.8,596 467.5,598" />
<path class="n" d="M493.6,571.8 Q487,578.5 483,586 Q480,594 479.3,604.5 L476.6,608.5" />
<ellipse class="m" cx="501.10" cy="593.60" rx="7.60" ry="10.60" transform="rotate(22 501.10 593.60)" />
<path class="n" d="M501.6,602.2 L499.5,602.4 L497.6,601.8 L496.1,600.4 L495.2,598.3 L494.9,595.7 L495.4,593.0 L496.4,590.3 L498.0,588.0 L499.9,586.3 L502.0,585.3 L504.1,585.2 L505.9,586.0" />
<path class="m" d="M497.5,587 L510.6,591.6 M496,592.5 L504.5,596.5 L501.5,603.5 M504.5,596.5 L509.9,593.6" stroke-width="2.0"/>
<path class="n" d="M495,599 L500.5,602.5" />
<path class="m" d="M373.8,713 L431,744.2 M363.8,731.4 L419.5,765.6" />
<path class="m" d="M373.8,713.0 L373.0,712.8 L372.0,712.9 L370.9,713.4 L369.7,714.3 L368.5,715.4 L367.3,716.8 L366.2,718.4 L365.1,720.2 L364.2,722.0 L363.5,723.9 L363.0,725.6 L362.7,727.3 L362.6,728.7 L362.8,729.9 L363.2,730.8 L363.8,731.4" />
<ellipse class="w" cx="426.10" cy="754.60" rx="8.20" ry="12.40" transform="rotate(26 426.10 754.60)" />
<line class="t" x1="466.20" y1="686.40" x2="500.00" y2="680.70" />
<path class="w" d="M432.3,714 L435.9,706.3 L442.7,705.8 L455.9,711.7 L461.3,715.8 L458.1,724.9 L451.8,726.3 L439.5,719.4 Z" />
<path class="n" d="M432.3,714 L440,714 L452.2,718.5 L461.3,715.8 M440,714 L439.5,719.4 M452.2,718.5 L451.8,726.3" />
<path class="w" d="M456.8,673.0 L443.7,708.2 Q448.5,713.4 455.5,712.6 L468.6,677.4 Z" />
<ellipse class="w" cx="462.70" cy="675.20" rx="6.30" ry="3.20" transform="rotate(20 462.70 675.20)" />
<path class="n" style="stroke-width:1.5" d="M455.9,675.5 Q460.7,680.5 467.7,679.9"/>
<path class="n" style="stroke-width:1.5" d="M454.9,678.0 Q459.8,683.0 466.7,682.4"/>
<path class="n" style="stroke-width:1.5" d="M454.0,680.5 Q458.8,685.6 465.8,684.9"/>
<path class="n" style="stroke-width:1.5" d="M453.1,683.1 Q457.9,688.1 464.9,687.5"/>
<path class="n" style="stroke-width:1.5" d="M452.1,685.6 Q457.0,690.6 463.9,690.0"/>
<path class="n" style="stroke-width:1.5" d="M451.2,688.1 Q456.0,693.1 463.0,692.5"/>
<path class="n" style="stroke-width:1.5" d="M450.2,690.6 Q455.1,695.6 462.1,695.0"/>
<path class="n" style="stroke-width:1.5" d="M449.3,693.1 Q454.2,698.1 461.1,697.5"/>
<path class="n" style="stroke-width:1.5" d="M448.4,695.6 Q453.2,700.6 460.2,700.0"/>
<path class="n" style="stroke-width:1.5" d="M447.4,698.1 Q452.3,703.2 459.2,702.5"/>
<path class="n" style="stroke-width:1.5" d="M446.5,700.7 Q451.4,705.7 458.3,705.1"/>
<line class="t" x1="530.00" y1="721.30" x2="503.80" y2="775.00" />
<path class="m" d="M506.8,826.7 L505.1,825.7 L503.6,824.3 L502.4,822.7 L501.3,820.7 L500.6,818.6 L500.1,816.2 L499.9,813.7 L500.0,811.1 L500.4,808.4 L501.0,805.7 L501.9,803.1 L503.1,800.5 L504.5,798.1 L506.1,795.8 L507.9,793.7 L509.8,791.9 L511.8,790.4 L513.9,789.2 L516.1,788.3 L518.2,787.8 L520.3,787.6 L522.3,787.8 L524.2,788.3 L526.0,789.2" stroke-width="1.9"/>
<path class="m" d="M502.7,824.4 L501.0,823.4 L499.6,822.0 L498.3,820.4 L497.3,818.4 L496.5,816.3 L496.0,813.9 L495.8,811.4 L495.9,808.8 L496.3,806.1 L496.9,803.4 L497.9,800.8 L499.0,798.2 L500.4,795.8 L502.0,793.5 L503.8,791.5 L505.7,789.7 L507.7,788.1 L509.8,786.9 L512.0,786.0 L514.1,785.5 L516.2,785.3 L518.2,785.5 L520.1,786.0 L521.9,786.9" stroke-width="1.9"/>
<path class="m" d="M498.6,822.2 L497.0,821.1 L495.5,819.7 L494.2,818.1 L493.2,816.2 L492.4,814.0 L492.0,811.6 L491.8,809.1 L491.8,806.5 L492.2,803.8 L492.9,801.2 L493.8,798.5 L494.9,795.9 L496.3,793.5 L497.9,791.2 L499.7,789.2 L501.6,787.4 L503.7,785.8 L505.8,784.6 L507.9,783.8 L510.1,783.2 L512.1,783.0 L514.2,783.2 L516.1,783.8 L517.8,784.6" stroke-width="1.9"/>
<path class="m" d="M494.6,819.9 L492.9,818.8 L491.4,817.5 L490.1,815.8 L489.1,813.9 L488.4,811.7 L487.9,809.4 L487.7,806.8 L487.8,804.2 L488.1,801.6 L488.8,798.9 L489.7,796.2 L490.9,793.7 L492.3,791.2 L493.9,788.9 L495.6,786.9 L497.6,785.1 L499.6,783.6 L501.7,782.3 L503.8,781.5 L506.0,780.9 L508.1,780.8 L510.1,780.9 L512.0,781.5 L513.8,782.3" stroke-width="1.9"/>
<path class="m" d="M490.5,817.6 L488.8,816.5 L487.3,815.2 L486.1,813.5 L485.1,811.6 L484.3,809.4 L483.8,807.1 L483.6,804.6 L483.7,801.9 L484.1,799.3 L484.7,796.6 L485.6,793.9 L486.8,791.4 L488.2,788.9 L489.8,786.7 L491.6,784.6 L493.5,782.8 L495.5,781.3 L497.6,780.1 L499.8,779.2 L501.9,778.6 L504.0,778.5 L506.0,778.6 L507.9,779.2 L509.7,780.1" stroke-width="1.9"/>
<path class="m" d="M486.4,815.3 L484.7,814.3 L483.3,812.9 L482.0,811.2 L481.0,809.3 L480.2,807.1 L479.7,804.8 L479.5,802.3 L479.6,799.7 L480.0,797.0 L480.7,794.3 L481.6,791.6 L482.7,789.1 L484.1,786.6 L485.7,784.4 L487.5,782.3 L489.4,780.5 L491.5,779.0 L493.6,777.8 L495.7,776.9 L497.8,776.4 L499.9,776.2 L502.0,776.4 L503.9,776.9 L505.6,777.8" stroke-width="1.9"/>
<path class="m" d="M482.4,813.0 L480.7,812.0 L479.2,810.6 L477.9,808.9 L476.9,807.0 L476.2,804.9 L475.7,802.5 L475.5,800.0 L475.6,797.4 L475.9,794.7 L476.6,792.0 L477.5,789.4 L478.7,786.8 L480.1,784.4 L481.7,782.1 L483.4,780.0 L485.4,778.2 L487.4,776.7 L489.5,775.5 L491.6,774.6 L493.8,774.1 L495.9,773.9 L497.9,774.1 L499.8,774.6 L501.5,775.5" stroke-width="1.9"/>
<path class="m" d="M478.3,810.7 L476.6,809.7 L475.1,808.3 L473.9,806.7 L472.8,804.7 L472.1,802.6 L471.6,800.2 L471.4,797.7 L471.5,795.1 L471.9,792.4 L472.5,789.7 L473.4,787.1 L474.6,784.5 L476.0,782.1 L477.6,779.8 L479.4,777.7 L481.3,775.9 L483.3,774.4 L485.4,773.2 L487.6,772.3 L489.7,771.8 L491.8,771.6 L493.8,771.8 L495.7,772.3 L497.5,773.2" stroke-width="1.9"/>
<path class="m" d="M474.2,808.4 L472.5,807.4 L471.1,806.0 L469.8,804.4 L468.8,802.4 L468.0,800.3 L467.5,797.9 L467.3,795.4 L467.4,792.8 L467.8,790.1 L468.4,787.4 L469.4,784.8 L470.5,782.2 L471.9,779.8 L473.5,777.5 L475.3,775.5 L477.2,773.7 L479.2,772.1 L481.3,770.9 L483.5,770.0 L485.6,769.5 L487.7,769.3 L489.7,769.5 L491.6,770.0 L493.4,770.9" stroke-width="1.9"/>
<path class="m" d="M470.1,806.2 L468.5,805.1 L467.0,803.7 L465.7,802.1 L464.7,800.2 L463.9,798.0 L463.5,795.6 L463.3,793.1 L463.3,790.5 L463.7,787.8 L464.4,785.2 L465.3,782.5 L466.4,779.9 L467.8,777.5 L469.4,775.2 L471.2,773.2 L473.1,771.4 L475.2,769.8 L477.3,768.6 L479.4,767.8 L481.6,767.2 L483.6,767.0 L485.7,767.2 L487.6,767.8 L489.3,768.6" stroke-width="1.9"/>
<path class="m" d="M466.1,803.9 L464.4,802.8 L462.9,801.5 L461.6,799.8 L460.6,797.9 L459.9,795.7 L459.4,793.4 L459.2,790.8 L459.3,788.2 L459.6,785.6 L460.3,782.9 L461.2,780.2 L462.4,777.7 L463.8,775.2 L465.4,772.9 L467.1,770.9 L469.1,769.1 L471.1,767.6 L473.2,766.3 L475.3,765.5 L477.5,764.9 L479.6,764.8 L481.6,764.9 L483.5,765.5 L485.3,766.3" stroke-width="1.9"/>
<path class="m" d="M462.0,801.6 L460.3,800.5 L458.8,799.2 L457.6,797.5 L456.6,795.6 L455.8,793.4 L455.3,791.1 L455.1,788.6 L455.2,785.9 L455.6,783.3 L456.2,780.6 L457.1,777.9 L458.3,775.4 L459.7,772.9 L461.3,770.7 L463.1,768.6 L465.0,766.8 L467.0,765.3 L469.1,764.1 L471.3,763.2 L473.4,762.6 L475.5,762.5 L477.5,762.6 L479.4,763.2 L481.2,764.1" stroke-width="1.9"/>
<path class="m" d="M457.9,799.3 L456.2,798.3 L454.8,796.9 L453.5,795.2 L452.5,793.3 L451.7,791.1 L451.2,788.8 L451.0,786.3 L451.1,783.7 L451.5,781.0 L452.2,778.3 L453.1,775.6 L454.2,773.1 L455.6,770.6 L457.2,768.4 L459.0,766.3 L460.9,764.5 L463.0,763.0 L465.1,761.8 L467.2,760.9 L469.3,760.4 L471.4,760.2 L473.5,760.4 L475.4,760.9 L477.1,761.8" stroke-width="1.9"/>
<path class="m" d="M453.5,796.5 L452.3,795.7 L451.1,794.6 L450.1,793.4 L449.2,792.0 L448.5,790.5 L448.0,788.8 L447.6,787.0 L447.3,785.1 L447.3,783.2 L447.4,781.1 L447.7,779.1 L448.1,777.0 L448.7,774.9 L449.5,772.9 L450.4,770.9 L451.5,769.0 L452.7,767.2 L454.0,765.6 L455.4,764.0 L456.8,762.6 L458.4,761.4 L460.0,760.4 L461.6,759.5 L463.3,758.9 L464.9,758.4 L466.5,758.2 L468.1,758.2 L469.6,758.4 L471.1,758.9 L472.5,759.5" /><line class="m" x1="472.46" y1="759.49" x2="529.46" y2="791.49" /><line class="m" x1="453.54" y1="796.51" x2="510.54" y2="828.51" /><ellipse class="w" cx="520.00" cy="810.00" rx="14.40" ry="20.80" transform="rotate(25 520.00 810.00)" />
<ellipse class="n" cx="519.60" cy="810.80" rx="5.20" ry="7.20" transform="rotate(25 519.60 810.80)" />
<ellipse class="n" cx="519.60" cy="810.80" rx="2.80" ry="4.00" transform="rotate(25 519.60 810.80)" />
<path class="w" d="M91.7,806.6 L102.5,787.9 L105,788.7 L105.8,790.8 L128.3,778.3 L130.8,779.2 L130.8,795.4 L106.2,809.1 L105.4,814.1 Z" stroke-width="1.9"/>
<path class="n" d="M106.6,793.0 L129.0,780.6 M94.4,806.4 L103.7,790.4 L105.3,794 L105.5,809" stroke-width="1.1"/>
<text transform="translate(105.9,807.0) skewY(-29) scale(0.64 1) skewX(-6)" style="font-family:'Liberation Sans',sans-serif;font-weight:bold;font-size:15.6px;stroke:#000;stroke-width:0.5">FWD</text>
<text x="0" y="0" text-anchor="middle" style="font-family:'Liberation Sans',sans-serif;font-size:10.5px;stroke:#000;stroke-width:0.35" transform="translate(76.18 838.40) scale(1.22 1)">3</text><text x="0" y="0" text-anchor="middle" style="font-family:'Liberation Sans',sans-serif;font-size:10.5px;stroke:#000;stroke-width:0.35" transform="translate(83.74 838.40) scale(1.22 1)">T</text><text x="0" y="0" text-anchor="middle" style="font-family:'Liberation Sans',sans-serif;font-size:10.5px;stroke:#000;stroke-width:0.35" transform="translate(91.30 838.40) scale(1.22 1)">T</text><rect class="k" x="98.06" y="830.88" width="1.6" height="7.52"/><text x="0" y="0" text-anchor="middle" style="font-family:'Liberation Sans',sans-serif;font-size:10.5px;stroke:#000;stroke-width:0.35" transform="translate(106.42 838.40) scale(1.22 1)">2</text><text x="0" y="0" text-anchor="middle" style="font-family:'Liberation Sans',sans-serif;font-size:10.5px;stroke:#000;stroke-width:0.35" transform="translate(113.98 838.40) scale(1.22 1)">0</text><text x="0" y="0" text-anchor="middle" style="font-family:'Liberation Sans',sans-serif;font-size:10.5px;stroke:#000;stroke-width:0.35" transform="translate(121.54 838.40) scale(1.22 1)">0</text><rect class="k" x="126.70" y="834.04" width="4.8" height="1.3"/><text x="0" y="0" text-anchor="middle" style="font-family:'Liberation Sans',sans-serif;font-size:10.5px;stroke:#000;stroke-width:0.35" transform="translate(136.66 838.40) scale(1.22 1)">0</text><rect class="k" x="143.42" y="830.88" width="1.6" height="7.52"/><text x="0" y="0" text-anchor="middle" style="font-family:'Liberation Sans',sans-serif;font-size:10.5px;stroke:#000;stroke-width:0.35" transform="translate(151.78 838.40) scale(1.22 1)">4</text><text x="0" y="0" text-anchor="middle" style="font-family:'Liberation Sans',sans-serif;font-size:10.5px;stroke:#000;stroke-width:0.35" transform="translate(159.34 838.40) scale(1.22 1)">0</text>
<rect class="k" x="210.00" y="165.78" width="2.1" height="10.44"/>
<text class="lb" style="font-size:14.5px" x="0" y="0" text-anchor="middle" transform="translate(250.75 158.22) scale(1.1 1)">2</text>
<text class="lb" style="font-size:14.5px" x="0" y="0" text-anchor="middle" transform="translate(199.00 340.02) scale(1.1 1)">6</text>
<text class="lb" style="font-size:14.5px" x="0" y="0" text-anchor="middle" transform="translate(249.30 370.62) scale(1.1 1)">4</text>
<rect class="k" x="458.73" y="309.28" width="2.1" height="10.44"/><text class="lb" style="font-size:14.5px" x="0" y="0" text-anchor="middle" transform="translate(467.77 319.72) scale(1.1 1)">5</text>
<text class="lb" style="font-size:14.5px" x="0" y="0" text-anchor="middle" transform="translate(495.75 343.22) scale(1.1 1)">3</text>
<rect class="k" x="549.48" y="361.78" width="2.1" height="10.44"/><text class="lb" style="font-size:14.5px" x="0" y="0" text-anchor="middle" transform="translate(558.52 372.22) scale(1.1 1)">6</text>
<rect class="k" x="591.23" y="387.78" width="2.1" height="10.44"/><text class="lb" style="font-size:14.5px" x="0" y="0" text-anchor="middle" transform="translate(600.27 398.22) scale(1.1 1)">7</text>
<rect class="k" x="377.18" y="438.78" width="2.1" height="10.44"/><rect class="k" x="385.22" y="438.78" width="2.1" height="10.44"/>
<rect class="k" x="418.18" y="467.78" width="2.1" height="10.44"/><text class="lb" style="font-size:14.5px" x="0" y="0" text-anchor="middle" transform="translate(427.22 478.22) scale(1.1 1)">2</text>
<rect class="k" x="458.58" y="491.38" width="2.1" height="10.44"/><text class="lb" style="font-size:14.5px" x="0" y="0" text-anchor="middle" transform="translate(467.62 501.82) scale(1.1 1)">3</text>
<text class="lb" style="font-size:14.5px" x="0" y="0" text-anchor="middle" transform="translate(145.75 519.47) scale(1.1 1)">7</text>
<text class="lb" style="font-size:14.5px" x="0" y="0" text-anchor="middle" transform="translate(243.00 562.72) scale(1.1 1)">5</text>
<rect class="k" x="293.18" y="583.98" width="2.1" height="10.44"/><text class="lb" style="font-size:14.5px" x="0" y="0" text-anchor="middle" transform="translate(302.22 594.42) scale(1.1 1)">4</text>
<text class="lb" style="font-size:14.5px" x="0" y="0" text-anchor="middle" transform="translate(374.50 637.72) scale(1.1 1)">8</text>
<rect class="k" x="503.73" y="674.78" width="2.1" height="10.44"/><text class="lb" style="font-size:14.5px" x="0" y="0" text-anchor="middle" transform="translate(512.77 685.22) scale(1.1 1)">0</text>
<text class="lb" style="font-size:14.5px" x="0" y="0" text-anchor="middle" transform="translate(533.75 718.97) scale(1.1 1)">9</text>
</svg>
</body></html>
